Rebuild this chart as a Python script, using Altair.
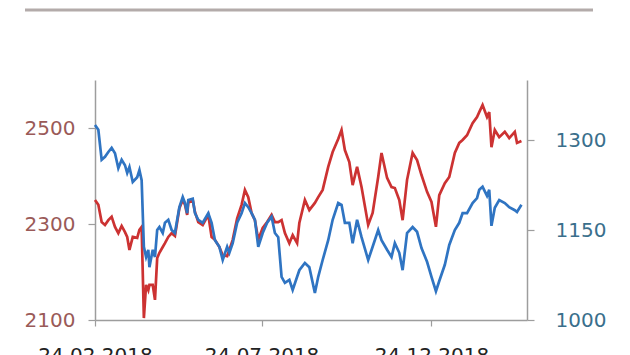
import altair as alt
import pandas as pd

dates = [
    "2018-02-24", "2018-02-27", "2018-03-02", "2018-03-05", "2018-03-08", "2018-03-11",
    "2018-03-14", "2018-03-17", "2018-03-20", "2018-03-23", "2018-03-25", "2018-03-27",
    "2018-03-30", "2018-04-03", "2018-04-05", "2018-04-07", "2018-04-09", "2018-04-11",
    "2018-04-13", "2018-04-14", "2018-04-17", "2018-04-19", "2018-04-21", "2018-04-23",
    "2018-04-26", "2018-04-28", "2018-05-01", "2018-05-04", "2018-05-07", "2018-05-09",
    "2018-05-11", "2018-05-14", "2018-05-16", "2018-05-18", "2018-05-19", "2018-05-23",
    "2018-05-25", "2018-05-28", "2018-06-01", "2018-06-06", "2018-06-09", "2018-06-12",
    "2018-06-16", "2018-06-19", "2018-06-23", "2018-06-25", "2018-06-28", "2018-07-02",
    "2018-07-06", "2018-07-09", "2018-07-12", "2018-07-15", "2018-07-18", "2018-07-21",
    "2018-07-25", "2018-07-29", "2018-08-02", "2018-08-05", "2018-08-08", "2018-08-11",
    "2018-08-14", "2018-08-18", "2018-08-21", "2018-08-25", "2018-08-27", "2018-09-01",
    "2018-09-05", "2018-09-10", "2018-09-13", "2018-09-17", "2018-09-22", "2018-09-26",
    "2018-10-01", "2018-10-04", "2018-10-07", "2018-10-11", "2018-10-14", "2018-10-18",
    "2018-10-22", "2018-10-28", "2018-11-01", "2018-11-06", "2018-11-09", "2018-11-14",
    "2018-11-18", "2018-11-21", "2018-11-25", "2018-11-28", "2018-12-02", "2018-12-07",
    "2018-12-11", "2018-12-15", "2018-12-20", "2018-12-24", "2018-12-28", "2018-12-31",
    "2019-01-05", "2019-01-09", "2019-01-14", "2019-01-18", "2019-01-21", "2019-01-25",
    "2019-01-30", "2019-02-03", "2019-02-05", "2019-02-08", "2019-02-12", "2019-02-14",
    "2019-02-16", "2019-02-19", "2019-02-23", "2019-02-28", "2019-03-04", "2019-03-09",
    "2019-03-11", "2019-03-15",
]

red_values = [
    2350, 2340, 2304, 2298, 2308, 2315, 2294, 2281, 2296, 2283, 2273, 2246,
    2273, 2271, 2288, 2294, 2104, 2173, 2162, 2173, 2173, 2142, 2229, 2240,
    2252, 2260, 2273, 2281, 2275, 2304, 2333, 2350, 2340, 2319, 2344, 2350,
    2325, 2304, 2298, 2319, 2273, 2267, 2252, 2235, 2233, 2246, 2267, 2312,
    2340, 2371, 2356, 2323, 2308, 2267, 2292, 2304, 2319, 2304, 2304, 2308,
    2281, 2260, 2277, 2260, 2302, 2350, 2329, 2344, 2356, 2371, 2419, 2450,
    2477, 2496, 2454, 2429, 2381, 2419, 2377, 2298, 2323, 2398, 2448, 2396,
    2377, 2375, 2350, 2308, 2392, 2448, 2433, 2402, 2367, 2346, 2294, 2360,
    2385, 2398, 2448, 2469, 2475, 2485, 2510, 2523, 2533, 2548, 2523, 2533,
    2460, 2496, 2481, 2492, 2479, 2492, 2469, 2473,
]

blue_values = [
    1325, 1317, 1267, 1272, 1280, 1287, 1278, 1253, 1267, 1258, 1245, 1255,
    1230, 1238, 1250, 1233, 1122, 1105, 1117, 1088, 1117, 1105, 1150, 1155,
    1145, 1162, 1167, 1150, 1145, 1167, 1188, 1205, 1195, 1178, 1200, 1202,
    1178, 1167, 1162, 1178, 1162, 1133, 1122, 1100, 1122, 1112, 1128, 1162,
    1178, 1195, 1188, 1178, 1167, 1122, 1145, 1162, 1172, 1145, 1138, 1072,
    1062, 1067, 1050, 1072, 1083, 1095, 1088, 1045, 1072, 1100, 1133, 1167,
    1195, 1192, 1162, 1162, 1128, 1167, 1138, 1100, 1122, 1150, 1133, 1117,
    1105, 1128, 1112, 1083, 1145, 1155, 1147, 1120, 1097, 1072, 1048, 1065,
    1092, 1125, 1150, 1162, 1178, 1178, 1195, 1203, 1217, 1222, 1207, 1217,
    1157, 1187, 1200, 1195, 1188, 1183, 1180, 1192,
]

left_ticks = [2100, 2300, 2500]
right_ticks = [1000, 1150, 1300]
x_ticks = [(2018, 2, 24), (2018, 7, 24), (2018, 12, 24)]

df = pd.DataFrame({"date": dates, "red": red_values, "blue": blue_values})

FONT = "DejaVu Sans"
AX = "#9d9d9d"

x_enc = alt.X(
    "date:T",
    scale=alt.Scale(
        type="utc",
        domain=[alt.DateTime(year=2018, month=2, date=24, utc=True),
                alt.DateTime(year=2019, month=3, date=20, utc=True)],
        nice=False,
    ),
    axis=alt.Axis(
        values=[alt.DateTime(year=y, month=m, date=d, utc=True) for (y, m, d) in x_ticks],
        labelExpr="utcFormat(datum.value, '%d.%m.%Y')",
        title=None,
        grid=False,
        domainColor=AX,
        domainWidth=1.5,
        tickColor=AX,
        tickWidth=1.2,
        tickSize=6,
        labelColor="#222222",
        labelFont=FONT,
        labelFontSize=20,
        labelPadding=19,
        labelFlush=False,
        labelOverlap=False,
    ),
)

red_line = alt.Chart(df).mark_line(color="#cc3232", strokeWidth=2.7).encode(
    x=x_enc,
    y=alt.Y(
        "red:Q",
        scale=alt.Scale(domain=[2100, 2600], nice=False, zero=False),
        axis=alt.Axis(
            orient="left",
            values=left_ticks,
            format="d",
            title=None,
            grid=False,
            domainColor=AX,
            domainWidth=1.5,
            tickColor=AX,
            tickWidth=1.2,
            tickSize=7,
            labelColor="#9a5a58",
            labelFont=FONT,
            labelFontSize=20,
            labelPadding=13,
            labelOverlap=False,
        ),
    ),
)

blue_line = alt.Chart(df).mark_line(color="#2f74c2", strokeWidth=2.7).encode(
    x=x_enc,
    y=alt.Y(
        "blue:Q",
        scale=alt.Scale(domain=[1000, 1400], nice=False, zero=False),
        axis=alt.Axis(
            orient="right",
            values=right_ticks,
            format="d",
            title=None,
            grid=False,
            domainColor=AX,
            domainWidth=1.5,
            tickColor=AX,
            tickWidth=1.2,
            tickSize=7,
            labelColor="#3a6f8c",
            labelFont=FONT,
            labelFontSize=20,
            labelPadding=21,
            labelOverlap=False,
        ),
    ),
)

top_rule = alt.Chart(pd.DataFrame({"k": [0]})).mark_rule(
    color="#b3abaa", strokeWidth=3
).encode(
    x=alt.value(-70),
    x2=alt.value(498),
    y=alt.value(-70),
)

chart = (
    alt.layer(red_line, blue_line, top_rule)
    .resolve_scale(y="independent")
    .properties(
        width=432,
        height=240,
        autosize=alt.AutoSizeParams(type="none"),
        padding={"left": 95, "top": 80, "right": 103, "bottom": 35},
        background="white",
    )
    .configure_view(stroke=None)
)

chart.save("out.html", embed_options={"renderer": "svg", "actions": False})
